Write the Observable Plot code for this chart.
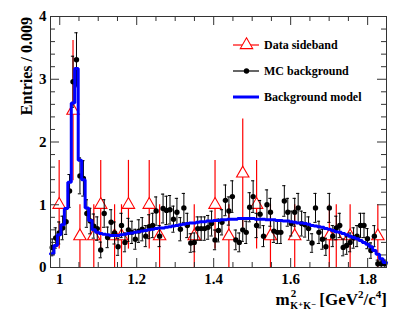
<!DOCTYPE html>
<html><head><meta charset="utf-8">
<script src="https://cdn.jsdelivr.net/npm/d3@7"></script>
<script src="https://cdn.jsdelivr.net/npm/@observablehq/plot@0.6"></script>
<style>
body{margin:0;background:#fff;}
#chart{position:relative;width:415px;height:315px;}
</style></head><body><div id="chart"></div>
<script>
// ---- data ----
const binLow = 0.976, binWidth = 0.009;
const mcValues = [
 0.32,0.47,0.55,0.63,0.73,1.22,2.96,3.31,1.46,1.42,
 0.86,0.74,0.66,0.62,0.28,0.86,0.48,0.72,0.55,0.33,
 0.67,0.40,0.60,0.56,0.45,0.58,0.61,0.50,0.65,0.67,
 0.90,0.50,0.94,0.91,0.92,0.77,0.88,0.61,0.95,0.67,
 0.39,0.40,0.62,0.62,0.62,0.64,0.70,0.44,0.59,0.72,
 1.07,0.90,1.13,0.44,0.40,0.60,0.56,0.96,1.13,0.67,
 0.85,0.50,1.00,0.88,0.58,0.56,0.56,1.06,0.88,0.70,
 0.88,0.95,0.70,0.68,0.62,0.39,0.95,0.56,0.45,0.33,
 0.95,0.50,0.63,0.67,0.32,0.35,0.40,0.47,0.50,0.67,
 0.67,0.46,0.27,0.50,0.06,0.06,0.06];
const modelValues = [
 0.22,0.35,0.52,0.68,0.94,1.36,2.62,3.17,1.71,1.40,
 0.95,0.75,0.60,0.56,0.54,0.53,0.52,0.51,0.51,0.51,
 0.52,0.53,0.54,0.55,0.56,0.57,0.58,0.59,0.60,0.61,
 0.62,0.63,0.63,0.64,0.65,0.66,0.67,0.68,0.69,0.70,
 0.71,0.71,0.72,0.73,0.73,0.74,0.74,0.75,0.75,0.76,
 0.76,0.77,0.77,0.77,0.78,0.78,0.78,0.78,0.78,0.77,
 0.77,0.77,0.76,0.76,0.76,0.75,0.75,0.74,0.74,0.73,
 0.72,0.71,0.71,0.70,0.69,0.67,0.66,0.65,0.64,0.62,
 0.61,0.59,0.57,0.56,0.54,0.52,0.50,0.48,0.46,0.43,
 0.40,0.37,0.33,0.27,0.21,0.14,0.08];
const sidebandX = [0.9985,1.0345,1.0525,1.0885,1.1065,1.1425,1.1605,1.1785,1.2325,1.2595,
 1.3495,1.4035,1.4395,1.4755,1.5115,1.5475,1.6105,1.7005,1.7185,1.7545,1.8265];
const sidebandValues = [1.0,2.5,0.5,0.5,1.0,0.5,0.5,1.0,1.0,0.5,
 0.5,1.0,0.5,1.5,1.0,0.5,0.5,0.5,0.5,0.5,0.5];
const mcWeight = 0.056, sidebandWeight = 0.5;
const xMajorTicks = [1.0,1.2,1.4,1.6,1.8];
const xTickLabels = ["1","1.2","1.4","1.6","1.8"];
const xMinorTicks = [1.05,1.1,1.15,1.25,1.3,1.35,1.45,1.5,1.55,1.65,1.7,1.75];
const yMajorTicks = [0,1,2,3,4];
const yTickLabels = ["0","1","2","3","4"];
const yMinorTicks = [0.2,0.4,0.6,0.8,1.2,1.4,1.6,1.8,2.2,2.4,2.6,2.8,3.2,3.4,3.6,3.8];
const legendLabels = ["Data sideband","MC background","Background model"];

// ---- derived tables ----
const center = i => binLow + binWidth*(i+0.5);
const mc = mcValues.map((v,i)=>{const e=Math.sqrt(mcWeight*v);return {x:center(i),y:v,lo:Math.max(0,v-e),hi:v+e};});
const sb = sidebandX.map((x,i)=>{const v=sidebandValues[i];const e=Math.sqrt(sidebandWeight*v);return {x,y:v,lo:Math.max(0,v-e),hi:v+e};});
const modelSteps = modelValues.flatMap((v,i)=>[{x:binLow+binWidth*i,y:v},{x:binLow+binWidth*(i+1),y:v}]);

const W=415,H=315,mL=50,mR=29,mT=16,mB=48;
const fw=W-mL-mR, fh=H-mT-mB;
const font = "'Liberation Serif','DejaVu Serif',serif";
const axisColor = "#333";
const capHalf = 0.0042;
const triR = 4.6;

const chart = Plot.plot({
  width:W, height:H, marginLeft:mL, marginRight:mR, marginTop:mT, marginBottom:mB,
  x:{domain:[binLow,1.849], axis:null},
  y:{domain:[0,4], axis:null},
  style:{fontFamily:font, background:"white", overflow:"visible"},
  marks:[
    Plot.ruleX(sb,{x:"x",y1:"lo",y2:"hi",stroke:"#ff0000",strokeWidth:1.2}),
    Plot.dot(sb,{x:"x",y:"y",symbol:"triangle",r:triR,stroke:"#ff0000",fill:"white",strokeWidth:1.1}),
    Plot.ruleX(mc,{x:"x",y1:"lo",y2:"hi",stroke:"black",strokeWidth:1}),
    Plot.ruleY(mc,{y:"hi",x1:d=>d.x-capHalf,x2:d=>d.x+capHalf,stroke:"black",strokeWidth:1}),
    Plot.ruleY(mc,{y:"lo",x1:d=>d.x-capHalf,x2:d=>d.x+capHalf,stroke:"black",strokeWidth:1}),
    Plot.dot(mc,{x:"x",y:"y",r:2.7,fill:"black",stroke:"none"}),
    Plot.line(modelSteps,{x:"x",y:"y",stroke:"#0000ff",strokeWidth:3,strokeLinejoin:"miter"}),
    Plot.frame({stroke:axisColor,strokeWidth:1}),
    Plot.tickX(xMajorTicks,{x:d=>d,insetTop:fh-9,stroke:axisColor}),
    Plot.tickX(xMinorTicks,{x:d=>d,insetTop:fh-5,stroke:axisColor}),
    Plot.tickX(xMajorTicks,{x:d=>d,insetBottom:fh-9,stroke:axisColor}),
    Plot.tickX(xMinorTicks,{x:d=>d,insetBottom:fh-5,stroke:axisColor}),
    Plot.tickY(yMajorTicks,{y:d=>d,insetRight:fw-9,stroke:axisColor}),
    Plot.tickY(yMinorTicks,{y:d=>d,insetRight:fw-5,stroke:axisColor}),
    Plot.tickY(yMajorTicks,{y:d=>d,insetLeft:fw-9,stroke:axisColor}),
    Plot.tickY(yMinorTicks,{y:d=>d,insetLeft:fw-5,stroke:axisColor}),
    Plot.text(xMajorTicks,{x:d=>d,text:(d,i)=>xTickLabels[i],frameAnchor:"bottom",dy:16,fontSize:15,fontWeight:"bold",fill:"black"}),
    Plot.text(yMajorTicks,{y:d=>d,text:(d,i)=>yTickLabels[i],frameAnchor:"left",dx:-4,textAnchor:"end",fontSize:15,fontWeight:"bold",fill:"black"})
  ]
});
document.getElementById("chart").appendChild(chart);

const svg = d3.select(chart);
// y title
svg.append("text").attr("transform","translate(32,17) rotate(-90)")
  .attr("text-anchor","end").attr("font-family",font).attr("font-weight","bold")
  .attr("font-size",16).attr("fill","black").text("Entries / 0.009");

// x title
const g = svg.append("g").attr("font-family",font).attr("font-weight","bold").attr("fill","black");
const base = 305;
const main = g.append("text").attr("x",387).attr("y",base).attr("text-anchor","end").attr("font-size",17);
main.append("tspan").text("[GeV");
main.append("tspan").attr("font-size",11).attr("dy",-7).text("2");
main.append("tspan").attr("dy",7).text("/c");
main.append("tspan").attr("font-size",11).attr("dy",-7).text("4");
main.append("tspan").attr("dy",7).text("]");
const mainStart = main.node().getBBox().x;
const sub = g.append("text").attr("x",mainStart-3).attr("y",base+4).attr("text-anchor","end").attr("font-size",10).text("K\u207AK\u207B");
const subStart = sub.node().getBBox().x;
g.append("text").attr("x",subStart+0.5).attr("y",base-8).attr("text-anchor","start").attr("font-size",11).text("2");
g.append("text").attr("x",subStart-0.5).attr("y",base).attr("text-anchor","end").attr("font-size",17).text("m");

// legend
const lg = svg.append("g").attr("font-family",font).attr("font-weight","bold");
const rows = [45,71,97];
lg.append("line").attr("x1",233).attr("x2",259).attr("y1",rows[0]).attr("y2",rows[0]).attr("stroke","#ff0000").attr("stroke-width",1.2);
lg.append("path").attr("d",d3.symbol(d3.symbolTriangle,Math.PI*triR*triR)()).attr("transform",`translate(246.5,${rows[0]})`).attr("fill","white").attr("stroke","#ff0000").attr("stroke-width",1.1);
lg.append("line").attr("x1",233).attr("x2",259).attr("y1",rows[1]).attr("y2",rows[1]).attr("stroke","#333").attr("stroke-width",1.5);
lg.append("circle").attr("cx",246.5).attr("cy",rows[1]).attr("r",2.7).attr("fill","black");
lg.append("line").attr("x1",233).attr("x2",259).attr("y1",rows[2]).attr("y2",rows[2]).attr("stroke","#0000ff").attr("stroke-width",3);
legendLabels.forEach((t,i)=>{
  lg.append("text").attr("x",264).attr("y",rows[i]).attr("dy","0.35em").attr("text-anchor","start").attr("font-size",12).attr("fill","black").text(t);
});
</script></body></html>
